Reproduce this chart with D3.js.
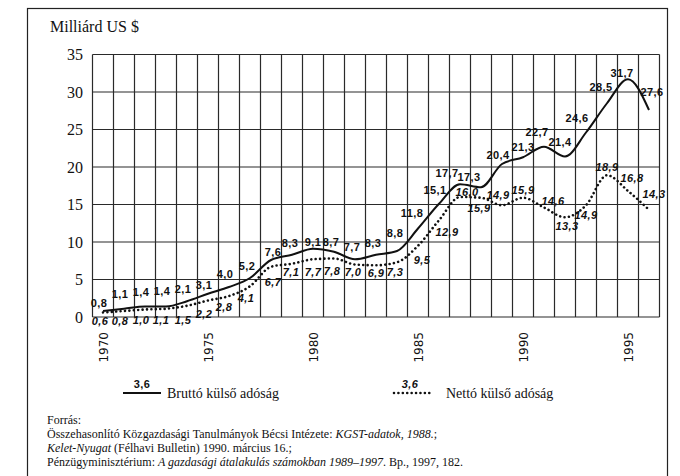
<!DOCTYPE html>
<html>

<head>
  <meta charset="UTF-8">
  <title>Bruttó és nettó külső adósság</title>
  <script src="https://d3js.org/d3.v7.min.js"></script>
  <style>
    body {
      margin: 0;
      background: #fff;
    }

    .grid line {
      stroke: #2a2a2a;
      stroke-width: 1.2px;
    }

    text.serif {
      font-family: "Times New Roman", Times, "Liberation Serif", "Nimbus Roman", "Noto Serif", "DejaVu Serif", serif;
      fill: #111;
    }

    .val {
      font-family: "Liberation Sans", Arial, sans-serif;
      font-size: 11px;
      font-weight: bold;
      letter-spacing: 0.4px;
      fill: #111;
    }

    .year {
      font-family: "DejaVu Sans", Verdana, sans-serif;
      font-size: 12px;
      fill: #111;
    }
  </style>
</head>

<body>
  <div id="chart"></div>

  <script>
    // years and values (milliárd US $)
    const years = [1970, 1971, 1972, 1973, 1974, 1975, 1976, 1977, 1978, 1979, 1980, 1981, 1982,
      1983, 1984, 1985, 1986, 1987, 1988, 1989, 1990, 1991, 1992, 1993, 1994, 1995, 1996];
    const brutto = [0.8, 1.1, 1.4, 1.4, 2.1, 3.1, 4.0, 5.2, 7.6, 8.3, 9.1, 8.7, 7.7,
      8.3, 8.8, 11.8, 15.1, 17.7, 17.3, 20.4, 21.3, 22.7, 21.4, 24.6, 28.5, 31.7, 27.6];
    const netto = [0.6, 0.8, 1.0, 1.1, 1.5, 2.2, 2.8, 4.1, 6.7, 7.1, 7.7, 7.8, 7.0,
      6.9, 7.3, 9.5, 12.9, 16.0, 15.9, 14.9, 15.9, 14.6, 13.3, 14.9, 18.9, 16.8, 14.3];
    const yTicks = [0, 5, 10, 15, 20, 25, 30, 35];
    const yearTicks = [1970, 1975, 1980, 1985, 1990, 1995];

    // label nudges [dx, dy] from each point, so the numbers sit like in the print
    const bruttoNudge = [[-4, -8], [-4, -15], [-4, -14], [-4, -15], [-4, -12], [-4, -9], [-4, -13], [-3, -12],
      [2, -8], [-2, -12], [0, -7], [-3, -10], [-3, -12], [-3, -12], [-2, -18], [-6, -15], [-4, -14],
      [-13, -11], [-12, -10], [-4, -9], [0, -10], [-7, -15], [-5, -14], [-9, -14], [-6, -16], [-6, -6], [3, -18]];
    const nettoNudge = [[-3, 9], [-4, 10], [-4, 11], [-5, 11], [-4, 14], [-4, 14], [-5, 11], [-4, 12],
      [2, 15], [-1, 8], [0, 13], [-2, 13], [-2, 8], [0, 8], [-2, 10], [4, 14], [8, 12],
      [7, -5], [-2, 10], [-4, -10], [0, -8], [9, -6], [2, 9], [0, 10], [0, -8], [4, -13], [5, -16]];

    const W = 680, H = 476;
    const svg = d3.select("#chart").append("svg")
      .attr("width", W)
      .attr("height", H);

    // outer frame (its bottom runs off the page)
    svg.append("rect")
      .attr("x", 27.5).attr("y", 8.5)
      .attr("width", 640).attr("height", 520)
      .attr("fill", "none")
      .attr("stroke", "#222")
      .attr("stroke-width", 1.2);

    const x = d3.scaleLinear().domain([1969.5, 1996.5]).range([92.5, 659.5]);
    const y = d3.scaleLinear().domain([0, 35]).range([317, 54.5]);

    const fmt = v => d3.format(".1f")(v).replace(".", ",");

    // grid
    const grid = svg.append("g").attr("class", "grid");
    grid.selectAll(".v")
      .data(d3.range(years[0] - 0.5, years[years.length - 1] + 1, 1))
      .enter().append("line")
      .attr("x1", d => x(d)).attr("x2", d => x(d))
      .attr("y1", y(35)).attr("y2", y(0));
    grid.selectAll(".h")
      .data(yTicks)
      .enter().append("line")
      .attr("x1", x.range()[0]).attr("x2", x.range()[1])
      .attr("y1", d => y(d)).attr("y2", d => y(d));

    // y axis labels
    svg.append("g").selectAll("text")
      .data(yTicks)
      .enter().append("text")
      .attr("class", "serif")
      .attr("x", 83)
      .attr("y", d => y(d))
      .attr("dy", "0.35em")
      .attr("text-anchor", "end")
      .style("font-size", "16px")
      .text(d => d);

    svg.append("text")
      .attr("class", "serif")
      .attr("x", 50).attr("y", 32)
      .style("font-size", "16px")
      .text("Milliárd US $");

    // x axis year labels, rotated
    svg.append("g").selectAll("text")
      .data(yearTicks)
      .enter().append("text")
      .attr("class", "year")
      .attr("transform", d => `translate(${x(d) + 4.5}, 332) rotate(-90)`)
      .attr("text-anchor", "end")
      .text(d => d);

    // lines
    const line = d3.line()
      .x((d, i) => x(years[i]))
      .y(d => y(d))
      .curve(d3.curveMonotoneX);

    svg.append("path")
      .datum(netto)
      .attr("d", line)
      .attr("fill", "none")
      .attr("stroke", "#111")
      .attr("stroke-width", 2.6)
      .attr("stroke-linecap", "round")
      .attr("stroke-dasharray", "0.01,4.4");

    svg.append("path")
      .datum(brutto)
      .attr("d", line)
      .attr("fill", "none")
      .attr("stroke", "#111")
      .attr("stroke-width", 2);

    // value labels
    svg.append("g").selectAll("text")
      .data(brutto)
      .enter().append("text")
      .attr("class", "val")
      .attr("x", (d, i) => x(years[i]) + bruttoNudge[i][0])
      .attr("y", (d, i) => y(d) + bruttoNudge[i][1])
      .attr("dy", "0.35em")
      .attr("text-anchor", "middle")
      .text(d => fmt(d));

    svg.append("g").selectAll("text")
      .data(netto)
      .enter().append("text")
      .attr("class", "val")
      .attr("x", (d, i) => x(years[i]) + nettoNudge[i][0])
      .attr("y", (d, i) => y(d) + nettoNudge[i][1])
      .attr("dy", "0.35em")
      .attr("text-anchor", "middle")
      .style("font-style", "italic")
      .text(d => fmt(d));

    // legend
    const legend = svg.append("g");
    legend.append("text").attr("class", "val")
      .attr("x", 142).attr("y", 384).attr("dy", "0.35em")
      .attr("text-anchor", "middle").text("3,6");
    legend.append("line")
      .attr("x1", 123).attr("x2", 161).attr("y1", 393).attr("y2", 393)
      .attr("stroke", "#111").attr("stroke-width", 2);
    legend.append("text").attr("class", "serif")
      .attr("x", 167).attr("y", 398)
      .style("font-size", "14px")
      .text("Bruttó külső adóság");

    legend.append("text").attr("class", "val")
      .attr("x", 410).attr("y", 384).attr("dy", "0.35em")
      .attr("text-anchor", "middle")
      .style("font-style", "italic").text("3,6");
    legend.append("line")
      .attr("x1", 394).attr("x2", 433).attr("y1", 393).attr("y2", 393)
      .attr("stroke", "#111").attr("stroke-width", 2.6)
      .attr("stroke-linecap", "round")
      .attr("stroke-dasharray", "0.01,4.4");
    legend.append("text").attr("class", "serif")
      .attr("x", 446).attr("y", 398)
      .style("font-size", "14px")
      .text("Nettó külső adóság");

    // source notes
    const notes = [
      [["Forrás:", false]],
      [["Összehasonlító Közgazdasági Tanulmányok Bécsi Intézete: ", false], ["KGST-adatok, 1988.", true], [";", false]],
      [["Kelet-Nyugat", true], [" (Félhavi Bulletin) 1990. március 16.;", false]],
      [["Pénzügyminisztérium: ", false], ["A gazdasági átalakulás számokban 1989–1997", true], [". Bp., 1997, 182.", false]]
    ];
    notes.forEach((parts, i) => {
      const t = svg.append("text")
        .attr("class", "serif")
        .attr("x", 47)
        .attr("y", 424 + i * 14)
        .style("font-size", "12px");
      parts.forEach(p => {
        t.append("tspan")
          .style("font-style", p[1] ? "italic" : "normal")
          .text(p[0]);
      });
    });
  </script>
</body>

</html>
